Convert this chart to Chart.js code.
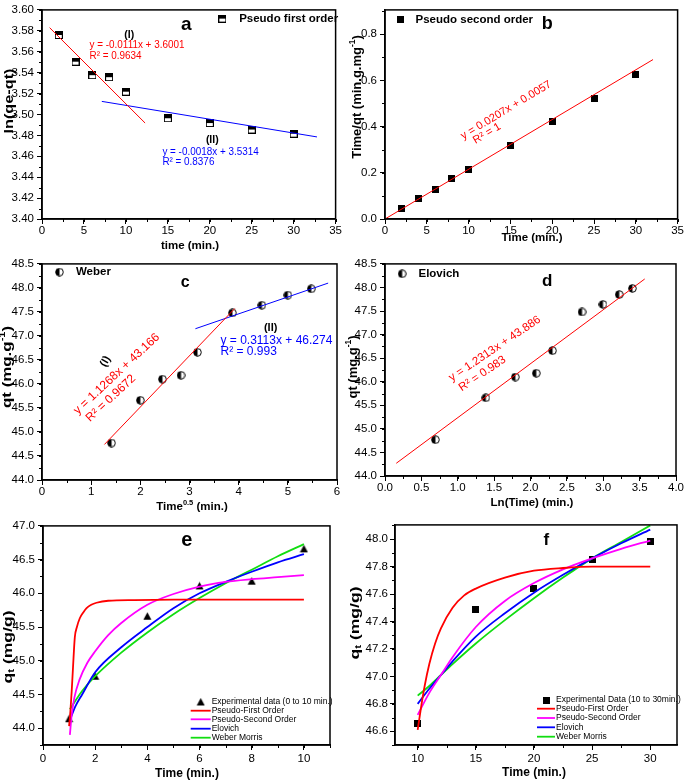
<!DOCTYPE html>
<html>
<head>
<meta charset="utf-8">
<title>Adsorption kinetics</title>
<script src="https://cdn.jsdelivr.net/npm/chart.js@4.4.1/dist/chart.umd.min.js"></script>
<style>
  body { margin: 0; background: #fff; }
  #fig { position: relative; width: 684px; height: 780px; }
  #fig canvas { position: absolute; }
</style>
</head>
<body>
<div id="fig">
  <canvas id="ca" width="342" height="254" style="left:0;top:0"></canvas>
  <canvas id="cb" width="342" height="254" style="left:342px;top:0"></canvas>
  <canvas id="cc" width="342" height="262" style="left:0;top:254px"></canvas>
  <canvas id="cd" width="342" height="262" style="left:342px;top:254px"></canvas>
  <canvas id="ce" width="342" height="264" style="left:0;top:516px"></canvas>
  <canvas id="cf" width="342" height="264" style="left:342px;top:516px"></canvas>
</div>
<script>
const FONT = '"Liberation Sans", Arial, Helvetica, sans-serif';

// experimental points, t = 2..30 min.
const times = [2, 4, 6, 8, 10, 15, 20, 25, 30];
const sqrtTimes = [1.414, 2.0, 2.449, 2.828, 3.162, 3.873, 4.472, 5.0, 5.477];
const lnTimes = [0.693, 1.386, 1.792, 2.079, 2.303, 2.708, 2.996, 3.219, 3.401];
const qt = [44.77, 45.66, 46.10, 46.18, 46.66, 47.48, 47.64, 47.85, 47.98];
const lnQeQt = [3.576, 3.5505, 3.5376, 3.5357, 3.5218, 3.4964, 3.4918, 3.4856, 3.4816];
const tOverQt = [0.045, 0.087, 0.129, 0.174, 0.215, 0.316, 0.422, 0.523, 0.626];

// linear fits, end points as drawn
const aFit1X = [0.91, 12.29], aFit1Y = [3.583, 3.4918];
const aFit2X = [7.13, 32.78], aFit2Y = [3.5125, 3.4785];
const bFitX = [0, 32.06], bFitY = [0, 0.690];
const cFit1X = [1.27, 3.92], cFit1Y = [44.74, 47.57];
const cFit2X = [3.12, 5.82], cFit2Y = [47.15, 48.10];
const dFitX = [0.155, 3.57], dFitY = [44.27, 48.18];

// panel e (0 to 10 min.)
const eTimes = [1, 2, 4, 6, 8, 10];
const eQt = [44.14, 44.77, 45.66, 46.11, 46.18, 46.66];
const ePfoX = [1.0, 1.05, 1.1, 1.15, 1.22, 1.3, 1.41, 1.55, 1.67, 1.85, 2.05, 2.5, 3.5, 5, 10];
const ePfoY = [44.03, 44.25, 44.55, 44.9, 45.35, 45.5, 45.63, 45.72, 45.78, 45.83, 45.86, 45.89, 45.9, 45.905, 45.905];
const ePsoX = [1.03, 1.1, 1.2, 1.4, 1.7, 2, 2.5, 3, 4, 5, 6, 7, 8, 9, 10];
const ePsoY = [43.9, 44.2, 44.45, 44.72, 44.97, 45.14, 45.38, 45.56, 45.83, 45.99, 46.1, 46.17, 46.21, 46.24, 46.27];
const eEloX = [1.03, 1.25, 1.5, 2, 3, 4, 5, 6, 7, 8, 9, 10];
const eEloY = [44.12, 44.33, 44.5, 44.83, 45.2, 45.5, 45.78, 46.0, 46.17, 46.32, 46.46, 46.58];
const eWebX = [1.03, 1.5, 2, 3, 4, 5, 6, 7, 8, 9, 10];
const eWebY = [44.28, 44.55, 44.77, 45.12, 45.42, 45.69, 45.93, 46.15, 46.35, 46.55, 46.73];

// panel f (10 to 30 min.)
const fTimes = [10, 15, 20, 25, 30];
const fQt = [46.66, 47.49, 47.64, 47.85, 47.98];
const fPfoX = [10, 10.3, 10.6, 11, 11.5, 12, 13, 14, 15, 17.5, 20, 22.5, 25, 30];
const fPfoY = [46.61, 46.78, 46.93, 47.09, 47.24, 47.35, 47.5, 47.59, 47.64, 47.72, 47.77, 47.79, 47.8, 47.8];
const fModelX = [10, 11, 12, 13, 15, 17.5, 20, 22.5, 25, 27.5, 30];
const fPsoY = [46.72, 46.88, 47.01, 47.14, 47.36, 47.55, 47.68, 47.78, 47.86, 47.93, 47.99];
const fEloY = [46.80, 46.91, 47.01, 47.11, 47.29, 47.46, 47.61, 47.74, 47.86, 47.97, 48.07];
const fWebY = [46.86, 46.93, 47.01, 47.09, 47.24, 47.41, 47.57, 47.72, 47.86, 47.98, 48.10];

// tick labels
const timeTicks = [0, 5, 10, 15, 20, 25, 30, 35];
const aYTicks = [3.40, 3.42, 3.44, 3.46, 3.48, 3.50, 3.52, 3.54, 3.56, 3.58, 3.60];
const bYTicks = [0.0, 0.2, 0.4, 0.6, 0.8];
const cXTicks = [0, 1, 2, 3, 4, 5, 6];
const qtTicks = [44.0, 44.5, 45.0, 45.5, 46.0, 46.5, 47.0, 47.5, 48.0, 48.5];
const dXTicks = [0.0, 0.5, 1.0, 1.5, 2.0, 2.5, 3.0, 3.5, 4.0];
const eXTicks = [0, 2, 4, 6, 8, 10];
const eYTicks = [44.0, 44.5, 45.0, 45.5, 46.0, 46.5, 47.0];
const fXTicks = [10, 15, 20, 25, 30];
const fYTicks = [46.6, 46.8, 47.0, 47.2, 47.4, 47.6, 47.8, 48.0];

const modelNames = ['Pseudo-First Order', 'Pseudo-Second Order', 'Elovich', 'Weber Morris'];
const modelColors = ['#ff0000', '#ff00ff', '#0000ff', '#11dd11'];

const pts = (xs, ys) => xs.map((v, i) => ({x: v, y: ys[i]}));

// marker pictures
function symbol(size, draw) {
  const c = document.createElement('canvas');
  c.width = c.height = size;
  const g = c.getContext('2d');
  g.strokeStyle = '#000'; g.fillStyle = '#000'; g.lineWidth = 1;
  draw(g, size);
  return c;
}
const halfSquare = symbol(8, (g, s) => {
  g.fillStyle = '#fff'; g.fillRect(0.5, 0.5, s - 1, s - 1);
  g.fillStyle = '#000'; g.fillRect(0.5, 0.5, s - 1, (s - 1) / 2);
  g.strokeRect(0.5, 0.5, s - 1, s - 1);
});
const halfCircle = symbol(9, (g, s) => {
  const r = s / 2 - 0.7;
  g.fillStyle = '#fff'; g.beginPath(); g.arc(s / 2, s / 2, r, 0, Math.PI * 2); g.fill();
  g.fillStyle = '#000'; g.beginPath(); g.arc(s / 2, s / 2, r, Math.PI / 2, Math.PI * 1.5); g.fill();
  g.beginPath(); g.arc(s / 2, s / 2, r, 0, Math.PI * 2); g.stroke();
});
const blackSquare = symbol(7, (g, s) => g.fillRect(0, 0, s, s));
const blackTriangle = symbol(9, (g, s) => {
  g.beginPath(); g.moveTo(s / 2, 0.5); g.lineTo(s - 0.5, s - 1); g.lineTo(0.5, s - 1); g.closePath(); g.fill();
});

function drawText(ctx, s, x, y, o) {
  ctx.save();
  ctx.translate(x, y);
  if (o.rot) ctx.rotate(o.rot * Math.PI / 180);
  if (o.sx) ctx.scale(o.sx, 1);
  ctx.font = o.font;
  ctx.fillStyle = o.color || '#000';
  ctx.textAlign = o.align || 'left';
  ctx.textBaseline = 'middle';
  ctx.fillText(s, 0, 0);
  ctx.restore();
}

// axis title with super/subscripts
function drawRich(ctx, parts, x, y, size, rot, sx) {
  ctx.save();
  ctx.translate(x, y);
  if (rot) ctx.rotate(rot * Math.PI / 180);
  if (sx) ctx.scale(sx, 1);
  ctx.fillStyle = '#000';
  ctx.textBaseline = 'middle';
  ctx.textAlign = 'left';
  const font = p => `bold ${p[1] ? size * 0.65 : size}px ${FONT}`;
  let w = 0;
  parts.forEach(p => { ctx.font = font(p); w += ctx.measureText(p[0]).width; });
  let cx = -w / 2;
  parts.forEach(p => {
    ctx.font = font(p);
    const dy = p[1] === 'sup' ? -size * 0.35 : p[1] === 'sub' ? size * 0.3 : 0;
    ctx.fillText(p[0], cx, dy);
    cx += ctx.measureText(p[0]).width;
  });
  ctx.restore();
}

const decoPlugin = {
  id: 'deco',
  afterDraw(chart, args, o) {
    const {ctx, chartArea: ca, scales: {x, y}} = chart;
    const [ox, oy] = o.off;
    ctx.save();
    // minor ticks
    ctx.strokeStyle = '#000';
    ctx.lineWidth = 1;
    ctx.beginPath();
    for (let v = Math.ceil(x.min / o.xMinor - 1e-6) * o.xMinor; v <= x.max + 1e-6; v += o.xMinor) {
      const px = Math.round(x.getPixelForValue(v)) + 0.5;
      ctx.moveTo(px, ca.bottom); ctx.lineTo(px, ca.bottom + 3);
    }
    for (let v = Math.ceil(y.min / o.yMinor - 1e-6) * o.yMinor; v <= y.max + 1e-6; v += o.yMinor) {
      const py = Math.round(y.getPixelForValue(v)) + 0.5;
      ctx.moveTo(ca.left - 3, py); ctx.lineTo(ca.left, py);
    }
    ctx.stroke();
    // frame
    ctx.lineWidth = 1.5;
    ctx.strokeRect(ca.left, ca.top, ca.right - ca.left, ca.bottom - ca.top);
    // legend symbols inside panels a-d
    (o.marks || []).forEach(m => {
      ctx.drawImage(m.img, x.getPixelForValue(m.x) - m.img.width / 2, y.getPixelForValue(m.y) - m.img.height / 2);
    });
    (o.texts || []).forEach(t => drawText(ctx, t.s, x.getPixelForValue(t.x), y.getPixelForValue(t.y), t));
    o.titles.forEach(t => drawRich(ctx, t.parts, t.x - ox, t.y - oy, t.size, t.rot, t.sx));
    // legend of panels e and f
    if (o.key) {
      const k = o.key;
      const font = `8.5px ${FONT}`;
      ctx.drawImage(k.img, k.mx - ox - k.img.width / 2, k.rows[0] - oy - k.img.height / 2);
      drawText(ctx, k.first, k.tx - ox, k.rows[0] - oy, {font});
      modelNames.forEach((name, i) => {
        const ry = k.rows[i + 1] - oy;
        ctx.strokeStyle = modelColors[i];
        ctx.lineWidth = 1.8;
        ctx.beginPath(); ctx.moveTo(k.x0 - ox, ry); ctx.lineTo(k.x1 - ox, ry); ctx.stroke();
        drawText(ctx, name, k.tx - ox, ry, {font});
      });
    }
    ctx.restore();
  }
};

function axis(min, max, ticks, dec, size, pad) {
  return {
    type: 'linear', min, max, bounds: 'data',
    afterBuildTicks: s => { s.ticks = ticks.map(v => ({value: v})); },
    afterFit: s => { if (s.isHorizontal()) s.height = size; else s.width = size; },
    grid: {drawOnChartArea: false, color: '#000', tickLength: 5, lineWidth: 1},
    border: {display: true, color: '#000', width: 1.5},
    ticks: {
      color: '#000', font: {family: FONT, size: 11.5}, padding: pad,
      maxRotation: 0, autoSkip: false, callback: v => v.toFixed(dec)
    }
  };
}

const scatterSet = (data, img) => ({data, pointStyle: img, pointRadius: 4, showLine: false});
const lineSet = (data, color, width, smooth) => ({
  data, showLine: true, borderColor: color, borderWidth: width, pointRadius: 0,
  cubicInterpolationMode: smooth ? 'monotone' : 'default'
});

function makeChart(id, off, pad, scales, datasets, deco) {
  new Chart(document.getElementById(id), {
    type: 'scatter',
    data: {datasets},
    options: {
      responsive: false, animation: false, events: [],
      layout: {padding: {top: pad[0], right: pad[1], bottom: 0, left: 0}},
      scales,
      plugins: {legend: {display: false}, tooltip: {enabled: false}, deco: Object.assign({off}, deco)}
    },
    plugins: [decoPlugin]
  });
}

const bold = s => `bold ${s}px ${FONT}`;
const reg = s => `${s}px ${FONT}`;

// a: pseudo first order
makeChart('ca', [0, 0], [3, 5], {
  x: axis(0, 35, timeTicks, 0, 35, 0),
  y: axis(3.40, 3.60, aYTicks, 2, 42, 3)
}, [
  lineSet(pts(aFit1X, aFit1Y), '#ff0000', 1),
  lineSet(pts(aFit2X, aFit2Y), '#0000ff', 1),
  scatterSet(pts(times, lnQeQt), halfSquare)
], {
  xMinor: 2.5, yMinor: 0.01,
  marks: [{x: 21.5, y: 3.5917, img: halfSquare}],
  texts: [
    {s: 'a', x: 17.2, y: 3.586, font: bold(19), align: 'center'},
    {s: 'Pseudo first order', x: 23.5, y: 3.5917, font: bold(11.5)},
    {s: '(I)', x: 10.4, y: 3.5762, font: bold(10.5), align: 'center'},
    {s: 'y = -0.0111x + 3.6001', x: 5.67, y: 3.566, font: reg(11), color: '#ff0000', sx: 0.9},
    {s: 'R² = 0.9634', x: 5.67, y: 3.5561, font: reg(11), color: '#ff0000', sx: 0.9},
    {s: '(II)', x: 20.3, y: 3.4754, font: bold(10.5), align: 'center'},
    {s: 'y = -0.0018x + 3.5314', x: 14.35, y: 3.4643, font: reg(11), color: '#0000ff', sx: 0.9},
    {s: 'R² = 0.8376', x: 14.35, y: 3.4544, font: reg(11), color: '#0000ff', sx: 0.9}
  ],
  titles: [
    {parts: [['time (min.)']], x: 190, y: 246, size: 11.5},
    {parts: [['ln(qe-qt)']], x: 9, y: 101, size: 13, rot: -90, sx: 1.25}
  ]
});

// b: pseudo second order
makeChart('cb', [342, 0], [4, 5], {
  x: axis(0, 35, timeTicks, 0, 35, 0),
  y: axis(0, 0.905, bYTicks, 1, 43, 3)
}, [
  lineSet(pts(bFitX, bFitY), '#ff0000', 1),
  scatterSet(pts(times, tOverQt), blackSquare)
], {
  xMinor: 2.5, yMinor: 0.1,
  marks: [{x: 1.9, y: 0.862, img: blackSquare}],
  texts: [
    {s: 'b', x: 19.4, y: 0.846, font: bold(18), align: 'center'},
    {s: 'Pseudo second order', x: 3.65, y: 0.862, font: bold(11.5)},
    {s: 'y = 0.0207x + 0.0057', x: 14.48, y: 0.471, font: reg(11), color: '#ff0000', align: 'center', rot: -31},
    {s: 'R² = 1', x: 12.2, y: 0.37, font: reg(11), color: '#ff0000', align: 'center', rot: -31}
  ],
  titles: [
    {parts: [['Time (min.)']], x: 532, y: 238, size: 11.5},
    {parts: [['Time/qt (min.g.mg'], ['-1', 'sup'], [')']], x: 357, y: 97, size: 13, rot: -90}
  ]
});

// c: Weber-Morris
makeChart('cc', [0, 254], [8, 1], {
  x: axis(0, 6, cXTicks, 0, 36, 0),
  y: axis(44.0, 48.5, qtTicks, 1, 42, 3)
}, [
  lineSet(pts(cFit1X, cFit1Y), '#ff0000', 1),
  lineSet(pts(cFit2X, cFit2Y), '#0000ff', 1),
  scatterSet(pts(sqrtTimes, qt), halfCircle)
], {
  xMinor: 0.5, yMinor: 0.25,
  marks: [{x: 0.355, y: 48.33, img: halfCircle}],
  texts: [
    {s: 'c', x: 2.91, y: 48.12, font: bold(16), align: 'center'},
    {s: 'Weber', x: 0.69, y: 48.33, font: bold(11.5)},
    {s: '(I)', x: 1.29, y: 46.47, font: bold(11), align: 'center', rot: -60},
    {s: 'y = 1.1268x + 43.166', x: 1.52, y: 46.21, font: reg(12), color: '#ff0000', align: 'center', rot: -43},
    {s: 'R² = 0.9672', x: 1.40, y: 45.70, font: reg(12), color: '#ff0000', align: 'center', rot: -43},
    {s: '(II)', x: 4.65, y: 47.17, font: bold(11), align: 'center'},
    {s: 'y = 0.3113x + 46.274', x: 3.63, y: 46.91, font: reg(12), color: '#0000ff'},
    {s: 'R² = 0.993', x: 3.63, y: 46.68, font: reg(12), color: '#0000ff'}
  ],
  titles: [
    {parts: [['Time'], ['0.5', 'sup'], [' (min.)']], x: 192, y: 507, size: 11.5},
    {parts: [['qt (mg.g'], ['-1', 'sup'], [')']], x: 7, y: 367, size: 13, rot: -90, sx: 1.3}
  ]
});

// d: Elovich
makeChart('cd', [342, 254], [8, 5], {
  x: axis(0, 4, dXTicks, 1, 40, 0),
  y: axis(44.0, 48.5, qtTicks, 1, 43, 3)
}, [
  lineSet(pts(dFitX, dFitY), '#ff0000', 1),
  scatterSet(pts(lnTimes, qt), halfCircle)
], {
  xMinor: 0.25, yMinor: 0.25,
  marks: [{x: 0.236, y: 48.29, img: halfCircle}],
  texts: [
    {s: 'd', x: 2.23, y: 48.13, font: bold(17), align: 'center'},
    {s: 'Elovich', x: 0.46, y: 48.29, font: bold(11.5)},
    {s: 'y = 1.2313x + 43.886', x: 1.51, y: 46.70, font: reg(11.5), color: '#ff0000', align: 'center', rot: -34},
    {s: 'R² = 0.983', x: 1.34, y: 46.17, font: reg(11.5), color: '#ff0000', align: 'center', rot: -34}
  ],
  titles: [
    {parts: [['Ln(Time) (min.)']], x: 532, y: 503, size: 11.5},
    {parts: [['qt (mg.g'], ['-1', 'sup'], [')']], x: 353, y: 367, size: 13, rot: -90}
  ]
});

// e: models, 0 to 10 min.
makeChart('ce', [0, 516], [7, 12], {
  x: axis(0, 11, eXTicks, 0, 35, 2),
  y: axis(43.75, 47.0, eYTicks, 1, 43, 3)
}, [
  lineSet(pts(ePfoX, ePfoY), modelColors[0], 1.8, true),
  lineSet(pts(ePsoX, ePsoY), modelColors[1], 1.8, true),
  lineSet(pts(eEloX, eEloY), modelColors[2], 1.8, true),
  lineSet(pts(eWebX, eWebY), modelColors[3], 1.8, true),
  scatterSet(pts(eTimes, eQt), blackTriangle)
], {
  xMinor: 1, yMinor: 0.25,
  texts: [{s: 'e', x: 5.51, y: 46.78, font: bold(20), align: 'center'}],
  key: {img: blackTriangle, mx: 200.7, tx: 211.7, x0: 190.7, x1: 210.7,
        rows: [702, 710.7, 719.3, 728.7, 737.7], first: 'Experimental data (0 to 10 min.)'},
  titles: [
    {parts: [['Time (min.)']], x: 187, y: 774, size: 12},
    {parts: [['q'], ['t', 'sub'], [' (mg/g)']], x: 8, y: 647, size: 13, rot: -90, sx: 1.35}
  ]
});

// f: models, 10 to 30 min.
makeChart('cf', [342, 516], [7, 7], {
  x: axis(8.05, 32.3, fXTicks, 0, 35, 2),
  y: axis(46.5, 48.104, fYTicks, 1, 53, 2)
}, [
  lineSet(pts(fPfoX, fPfoY), modelColors[0], 1.8, true),
  lineSet(pts(fModelX, fPsoY), modelColors[1], 1.8, true),
  lineSet(pts(fModelX, fEloY), modelColors[2], 1.8, true),
  lineSet(pts(fModelX, fWebY), modelColors[3], 1.8, true),
  scatterSet(pts(fTimes, fQt), blackSquare)
], {
  xMinor: 2.5, yMinor: 0.1,
  texts: [{s: 'f', x: 21.07, y: 47.99, font: bold(17), align: 'center'}],
  key: {img: blackSquare, mx: 546, tx: 556, x0: 537, x1: 555,
        rows: [700, 708.7, 718, 727.3, 736.7], first: 'Experimental Data (10 to 30min.)'},
  titles: [
    {parts: [['Time (min.)']], x: 534, y: 773, size: 12},
    {parts: [['q'], ['t', 'sub'], [' (mg/g)']], x: 355, y: 623, size: 13, rot: -90, sx: 1.35}
  ]
});
</script>
</body>
</html>
